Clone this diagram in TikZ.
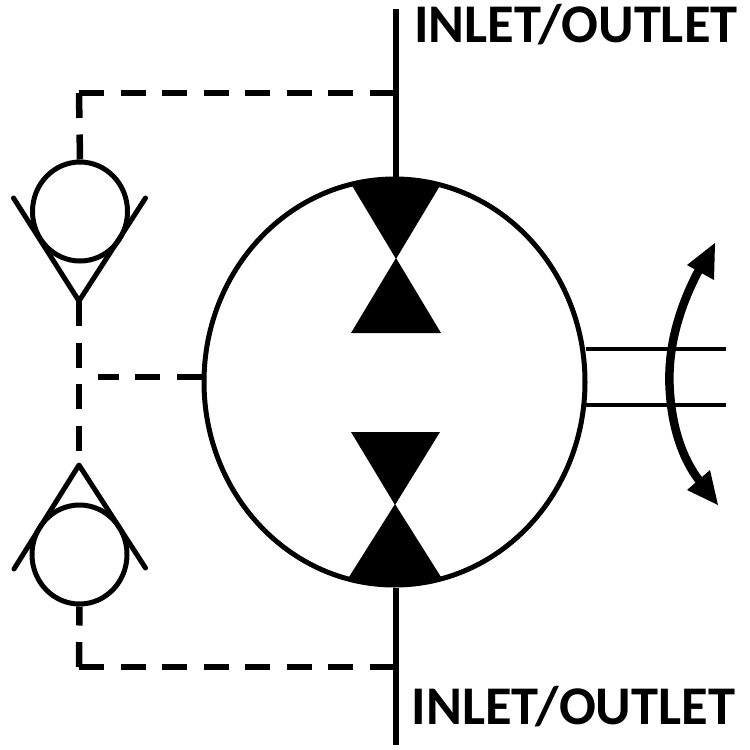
\documentclass[tikz,border=0pt]{standalone}
\usepackage{fontspec}
\usetikzlibrary{shapes.geometric}
\setmainfont{Carlito}
\begin{document}
\begin{tikzpicture}[x=1pt,y=-1pt,line join=round,
  solidline/.style={draw=black,line width=6pt},
  thinline/.style={draw=black,line width=4.5pt},
  pilot/.style={draw=black,line width=6.5pt,dash pattern=on 25pt off 16.5pt},
  valveball/.style={ellipse,draw=black,line width=5pt,inner sep=0pt,minimum width=95pt,minimum height=99pt,fill=white},
  seat/.style={draw=black,line width=5pt,line cap=round},
  wedge/.style={fill=black},
  lbl/.style={font=\bfseries\fontsize{54.5}{55}\selectfont,inner sep=0pt}]
\useasboundingbox (0,0) rectangle (750,750);
\fill[white] (0,0) rectangle (750,750);
% free ends and corners
\coordinate (topend) at (396,9);
\coordinate (botend) at (396,745);
\coordinate (topjoin) at (396,93);
\coordinate (botjoin) at (396,667);
\coordinate (cornerT) at (79,93);
\coordinate (cornerB) at (79,667);
\coordinate (midend) at (98,377);
\coordinate (apexT) at (79,301);
\coordinate (apexB) at (79,465);
\coordinate (shaftA) at (726,349);
\coordinate (shaftB) at (726,405);
% motor
\node[ellipse,draw=black,line width=5pt,minimum width=381pt,minimum height=406pt,inner sep=0pt,fill=white] (motor) at (394.5,382) {};
\draw[solidline] (topend) -- (topend |- motor.north);
\draw[solidline] (botend |- motor.south) -- (botend);
% wedges
\fill[wedge] (351,184) .. controls (380,176) and (412,176) .. (441,184) -- (396,259) -- cycle;
\fill[wedge] (396,258) -- (441,333) -- (351,333) -- cycle;
\fill[wedge] (351,432) -- (440,432) -- (395,505) -- cycle;
\fill[wedge] (395,504) -- (441,577) .. controls (412,588) and (378,588) .. (349,577) -- cycle;
% valve balls
\node[valveball] (ballT) at (80,211.5) {};
\node[valveball] (ballB) at (79.5,554.5) {};
% seats
\draw[seat] (13.5,198) -- (apexT) -- (145.5,198);
\draw[seat] (14,569) -- (apexB) -- (145.5,568);
% pilot lines
\draw[pilot] (cornerT) -- (topjoin);
\draw[pilot] (cornerT) -- (ballT.north);
\draw[pilot] (cornerB) -- (botjoin);
\draw[pilot] (cornerB) -- (ballB.south);
\draw[pilot] (apexT) -- (apexB);
\draw[pilot] (motor.west |- midend) -- (midend);
% shaft
\draw[thinline] (motor.east |- shaftA) ++(-2,0) -- (shaftA);
\draw[thinline] (motor.east |- shaftB) ++(-2,0) -- (shaftB);
% rotation arrow
\draw[line width=8.5pt] (700,268) .. controls (680,305) and (668,345) .. (669.5,385) .. controls (671,425) and (682,460) .. (702,484);
\fill (715,243) -- (714,280) -- (687,265) -- cycle;
\fill (718,505) -- (687,490) -- (710,470) -- cycle;
% labels
\node[lbl,anchor=base west] (labelT) at (414,42) {INLET/OUTLET};
\node[lbl,anchor=base west] (labelB) at (411.5,724) {INLET/OUTLET};
\end{tikzpicture}
\end{document}
